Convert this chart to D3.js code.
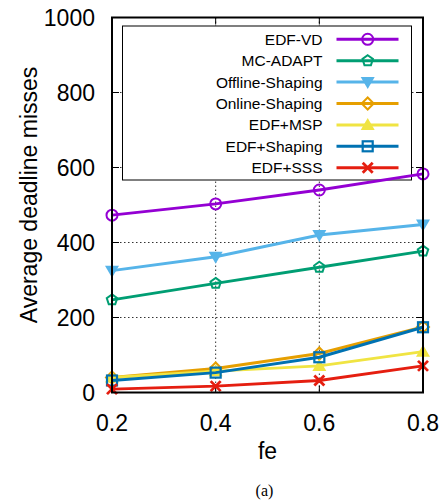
<!DOCTYPE html>
<html>
<head>
<meta charset="utf-8">
<script src="https://cdn.jsdelivr.net/npm/d3@7"></script>
<style>
  body { margin: 0; background: #fff; }
  text { font-family: "Liberation Sans", Arial, sans-serif; }
</style>
</head>
<body>
<div id="chart"></div>
<script>
// data
var fe = [0.2, 0.4, 0.6, 0.8];
var seriesNames = ["EDF-VD", "MC-ADAPT", "Offline-Shaping", "Online-Shaping", "EDF+MSP", "EDF+Shaping", "EDF+SSS"];
var edfVD = [473, 503, 540, 583];
var mcAdapt = [247, 291, 334, 377];
var offlineShaping = [325, 362, 420, 448];
var onlineShaping = [40, 64, 104, 175];
var edfMSP = [40, 57, 71, 109];
var edfShaping = [32, 53, 94, 174];
var edfSSS = [9, 17, 32, 71];
var yTicks = [0, 200, 400, 600, 800, 1000];

var colors = ["#9400d3", "#009e73", "#56b4e9", "#e69f00", "#f0e442", "#0072b2", "#e51e10"];
var markers = ["circle", "pentagon", "tridown", "diamond", "triup", "square", "cross"];
var allSeries = [edfVD, mcAdapt, offlineShaping, onlineShaping, edfMSP, edfShaping, edfSSS];

var margin = {top: 17.5, right: 22, bottom: 109.5, left: 112},
    width = 445 - margin.left - margin.right,
    height = 502 - margin.top - margin.bottom;

var svg = d3.select("#chart")
    .append("svg")
    .attr("width", 445)
    .attr("height", 502)
    .append("g")
    .attr("transform", "translate(" + margin.left + "," + margin.top + ")");

var x = d3.scaleLinear().domain([0.2, 0.8]).range([0, width]);
var y = d3.scaleLinear().domain([0, 1000]).range([height, 0]);

// grid (dotted)
svg.append("g").selectAll("line.gx")
    .data(fe.slice(1, 3))
    .enter().append("line")
    .attr("x1", function(d) { return x(d); })
    .attr("x2", function(d) { return x(d); })
    .attr("y1", 0).attr("y2", height)
    .attr("stroke", "#333").attr("stroke-width", 1)
    .attr("stroke-dasharray", "1.5,2.5");
svg.append("g").selectAll("line.gy")
    .data(yTicks.slice(1, 5))
    .enter().append("line")
    .attr("y1", function(d) { return y(d); })
    .attr("y2", function(d) { return y(d); })
    .attr("x1", 0).attr("x2", width)
    .attr("stroke", "#333").attr("stroke-width", 1)
    .attr("stroke-dasharray", "1.5,2.5");

// inner ticks on all four sides
var tickLen = 7;
svg.append("g").selectAll("line")
    .data(fe)
    .enter().append("line")
    .attr("x1", function(d) { return x(d); }).attr("x2", function(d) { return x(d); })
    .attr("y1", height).attr("y2", height - tickLen)
    .attr("stroke", "#000").attr("stroke-width", 1);
svg.append("g").selectAll("line")
    .data(fe)
    .enter().append("line")
    .attr("x1", function(d) { return x(d); }).attr("x2", function(d) { return x(d); })
    .attr("y1", 0).attr("y2", tickLen)
    .attr("stroke", "#000").attr("stroke-width", 1);
svg.append("g").selectAll("line")
    .data(yTicks)
    .enter().append("line")
    .attr("y1", function(d) { return y(d); }).attr("y2", function(d) { return y(d); })
    .attr("x1", 0).attr("x2", tickLen)
    .attr("stroke", "#000").attr("stroke-width", 1);
svg.append("g").selectAll("line")
    .data(yTicks)
    .enter().append("line")
    .attr("y1", function(d) { return y(d); }).attr("y2", function(d) { return y(d); })
    .attr("x1", width).attr("x2", width - tickLen)
    .attr("stroke", "#000").attr("stroke-width", 1);

// tick labels
svg.append("g").selectAll("text")
    .data(yTicks)
    .enter().append("text")
    .attr("x", -17)
    .attr("y", function(d) { return y(d); })
    .attr("dy", "0.36em")
    .attr("text-anchor", "end")
    .style("font-size", "23px")
    .text(function(d) { return d; });
svg.append("g").selectAll("text")
    .data(fe)
    .enter().append("text")
    .attr("x", function(d) { return x(d); })
    .attr("y", height + 38)
    .attr("text-anchor", "middle")
    .style("font-size", "23px")
    .text(function(d) { return d.toFixed(1); });

// axis titles
svg.append("text")
    .attr("x", width / 2)
    .attr("y", height + 66)
    .attr("text-anchor", "middle")
    .style("font-size", "23px")
    .text("fe");
svg.append("text")
    .attr("transform", "translate(-75," + (height / 2 - 10) + ") rotate(-90)")
    .attr("text-anchor", "middle")
    .style("font-size", "23px")
    .text("Average deadline misses");
svg.append("text")
    .attr("x", x(0.5) - 3)
    .attr("y", height + 103)
    .attr("text-anchor", "middle")
    .style("font-family", "'Liberation Serif', 'Times New Roman', serif")
    .style("font-size", "16px")
    .text("(a)");

// marker drawing
function drawMarker(g, type, color, cx, cy) {
    var s = 5.5;
    if (type === "circle") {
        g.append("circle").attr("cx", cx).attr("cy", cy).attr("r", s)
            .attr("fill", "none").attr("stroke", color).attr("stroke-width", 2);
    } else if (type === "pentagon") {
        var pts = d3.range(5).map(function(i) {
            var a = -Math.PI / 2 + i * 2 * Math.PI / 5;
            return [cx + s * Math.cos(a), cy + s * Math.sin(a)];
        });
        g.append("polygon").attr("points", pts.join(" "))
            .attr("fill", "none").attr("stroke", color).attr("stroke-width", 2);
    } else if (type === "tridown") {
        g.append("polygon")
            .attr("points", [[cx - 7, cy - 5], [cx + 7, cy - 5], [cx, cy + 7]].join(" "))
            .attr("fill", color);
    } else if (type === "triup") {
        g.append("polygon")
            .attr("points", [[cx - 7, cy + 5], [cx + 7, cy + 5], [cx, cy - 7]].join(" "))
            .attr("fill", color);
    } else if (type === "diamond") {
        g.append("polygon")
            .attr("points", [[cx, cy - 6], [cx + 6, cy], [cx, cy + 6], [cx - 6, cy]].join(" "))
            .attr("fill", "none").attr("stroke", color).attr("stroke-width", 2);
    } else if (type === "square") {
        g.append("rect").attr("x", cx - 5).attr("y", cy - 5).attr("width", 10).attr("height", 10)
            .attr("fill", "none").attr("stroke", color).attr("stroke-width", 2.2);
    } else if (type === "cross") {
        g.append("path")
            .attr("d", "M" + (cx - 5) + "," + (cy - 5) + "L" + (cx + 5) + "," + (cy + 5) +
                "M" + (cx - 5) + "," + (cy + 5) + "L" + (cx + 5) + "," + (cy - 5))
            .attr("stroke", color).attr("stroke-width", 2.8);
    }
}

// legend box
var legX = 10.5, legY = 8.5, legW = 289, legH = 154;
svg.append("rect")
    .attr("x", legX).attr("y", legY).attr("width", legW).attr("height", legH)
    .attr("fill", "#fff").attr("stroke", "#000").attr("stroke-width", 1);

var line = d3.line()
    .x(function(d, i) { return x(fe[i]); })
    .y(function(d) { return y(d); });

allSeries.forEach(function(data, k) {
    var g = svg.append("g");
    g.append("path")
        .datum(data)
        .attr("d", line)
        .attr("fill", "none")
        .attr("stroke", colors[k])
        .attr("stroke-width", 3);
    data.forEach(function(d, i) {
        drawMarker(g, markers[k], colors[k], x(fe[i]), y(d));
    });

    // legend entry
    var ly = 21.8 + k * 21.4;
    svg.append("text")
        .attr("x", 210.5)
        .attr("y", ly)
        .attr("dy", "0.36em")
        .attr("text-anchor", "end")
        .style("font-size", "15.5px")
        .text(seriesNames[k]);
    svg.append("line")
        .attr("x1", 224.5).attr("x2", 286.5)
        .attr("y1", ly).attr("y2", ly)
        .attr("stroke", colors[k]).attr("stroke-width", 3);
    drawMarker(svg, markers[k], colors[k], 255.7, ly);
});

// frame
svg.append("rect")
    .attr("x", 0).attr("y", 0).attr("width", width).attr("height", height)
    .attr("fill", "none").attr("stroke", "#000").attr("stroke-width", 2);
</script>
</body>
</html>
